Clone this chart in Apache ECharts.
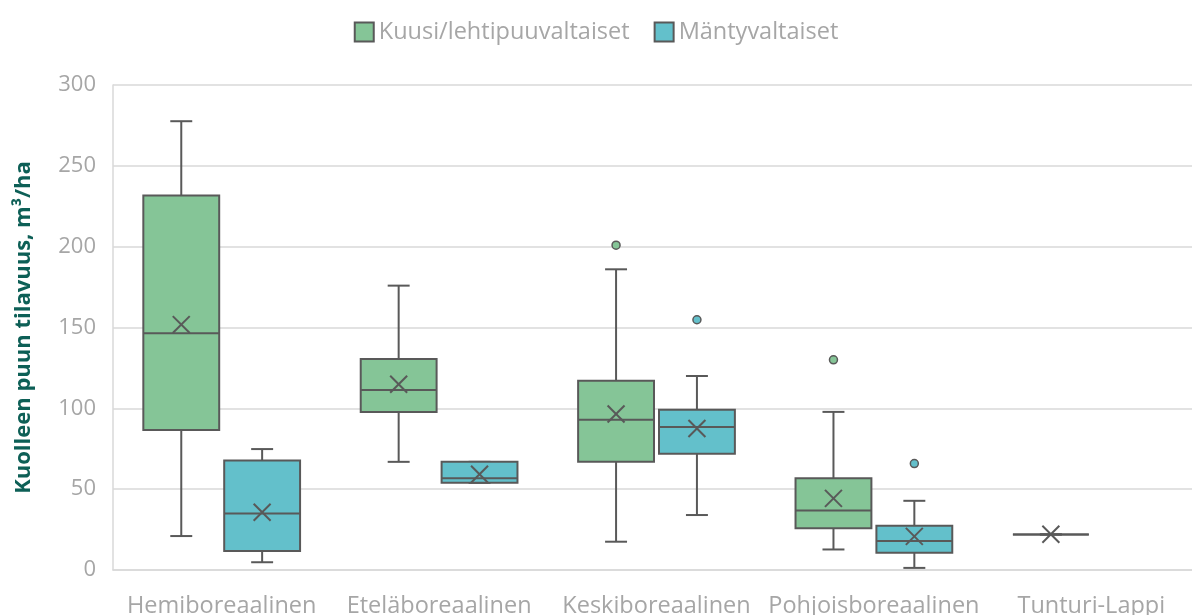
<!DOCTYPE html>
<html><head><meta charset="utf-8">
<script src="https://cdn.jsdelivr.net/npm/echarts@6/dist/echarts.min.js"></script>
<style>html,body{margin:0;padding:0;background:#fff}#c{width:1192px;height:615px}</style>
</head><body><div id="c"></div>
<script>
const categories = ['Hemiboreaalinen','Eteläboreaalinen','Keskiboreaalinen','Pohjoisboreaalinen','Tunturi-Lappi'];
const seriesNames = ['Kuusi/lehtipuuvaltaiset','Mäntyvaltaiset'];
const yAxisName = 'Kuolleen puun tilavuus, m³/ha';
// each entry: [min, Q1, median, Q3, max]
const spruceBox = [[21,86.6,146.5,231.6,277.6],[66.9,97.8,111.4,130.5,175.9],[17.5,66.9,93,117.1,186],[12.7,25.9,36.8,56.8,97.8],[22,22,22,22,22]];
const spruceMean = [151.8,114.9,96.5,44.3,22.1];
const spruceOutliers = [[2,200.9],[3,130]];
const pineBox = [[4.8,11.8,34.9,67.8,74.8],[53.9,53.9,56.8,66.9,66.9],[34,71.9,88.4,99.1,120],[1.3,10.7,18,27.4,42.8],null];
const pineMean = [35.7,59.2,87.5,20.8,null];
const pineOutliers = [[2,154.8],[3,65.8]];
const yMin = 0, yMax = 300, yStep = 50;

const GREEN = '#85c597', BLUE = '#63c0cb', EDGE = '#595959';

function buildRows(boxes, means){
  const rows = [];
  boxes.forEach((b, i) => { if (b) rows.push([i].concat(b, [means[i]])); });
  return rows;
}

function boxRender(side, fill){
  return function(params, api){
    const i = api.value(0);
    const band = api.size([1, 0])[0];
    const off = side * 0.186 * band;
    const w = 0.349 * band, cap = 0.101 * band, xs = 0.039 * band;
    const p = [1,2,3,4,5,6].map(k => api.coord([i, api.value(k)]));
    const x = p[0][0] + off;
    const yMinP = p[0][1], yQ1 = p[1][1], yMed = p[2][1], yQ3 = p[3][1], yMaxP = p[4][1], yMean = p[5][1];
    const ls = {stroke: EDGE, lineWidth: 2};
    const children = [
      {type:'line', shape:{x1:x, y1:yQ1, x2:x, y2:yMinP}, style:ls},
      {type:'line', shape:{x1:x, y1:yQ3, x2:x, y2:yMaxP}, style:ls},
      {type:'line', shape:{x1:x-cap/2, y1:yMinP, x2:x+cap/2, y2:yMinP}, style:ls},
      {type:'line', shape:{x1:x-cap/2, y1:yMaxP, x2:x+cap/2, y2:yMaxP}, style:ls},
      {type:'rect', shape:{x:x-w/2, y:yQ3, width:w, height:yQ1-yQ3}, style:{fill:fill, stroke:EDGE, lineWidth:2}},
      {type:'line', shape:{x1:x-w/2, y1:yMed, x2:x+w/2, y2:yMed}, style:ls},
      {type:'line', shape:{x1:x-xs, y1:yMean-xs, x2:x+xs, y2:yMean+xs}, style:ls},
      {type:'line', shape:{x1:x-xs, y1:yMean+xs, x2:x+xs, y2:yMean-xs}, style:ls}
    ];
    return {type:'group', children};
  };
}
function outlierRender(side, fill){
  return function(params, api){
    const band = api.size([1, 0])[0];
    const pt = api.coord([api.value(0), api.value(1)]);
    return {type:'circle', shape:{cx: pt[0] + side*0.186*band, cy: pt[1], r: 4}, style:{fill:fill, stroke:EDGE, lineWidth:1.5}};
  };
}

const chart = echarts.init(document.getElementById('c'));
chart.setOption({
  animation: false,
  backgroundColor: '#fff',
  textStyle: {fontFamily: 'Open Sans'},
  legend: {
    top: 15, left: 'center', itemWidth: 19, itemHeight: 19, itemGap: 24,
    textStyle: {fontSize: 23.5, color: '#a6a6a6', fontFamily: 'Open Sans'},
    data: [
      {name: seriesNames[0], icon: 'rect', itemStyle: {color: GREEN, borderColor: EDGE, borderWidth: 2}},
      {name: seriesNames[1], icon: 'rect', itemStyle: {color: BLUE, borderColor: EDGE, borderWidth: 2}}
    ]
  },
  grid: {left: 113, right: -8, top: 85, bottom: 45, outerBoundsMode: 'none'},
  xAxis: {
    type: 'category', data: categories,
    axisLine: {show: true, lineStyle: {color: '#d9d9d9', width: 1.5}},
    axisTick: {show: false},
    axisLabel: {fontSize: 23.5, color: '#a6a6a6', margin: 24, fontFamily: 'Open Sans', interval: 0}
  },
  yAxis: {
    type: 'value', min: yMin, max: yMax, interval: yStep,
    name: yAxisName, nameLocation: 'middle', nameRotate: 90, nameGap: 78,
    nameTextStyle: {fontSize: 22, fontWeight: 'bold', color: '#0d5f56', fontFamily: 'Open Sans'},
    axisLine: {show: true, lineStyle: {color: '#d9d9d9', width: 1.5}},
    axisTick: {show: false},
    axisLabel: {fontSize: 22, color: '#a6a6a6', margin: 17, fontFamily: 'Open Sans'},
    splitLine: {lineStyle: {color: '#d9d9d9', width: 1.5}}
  },
  series: [
    {name: seriesNames[0], type: 'custom', renderItem: boxRender(-1, GREEN), itemStyle: {color: GREEN},
     encode: {x: 0, y: [1,2,3,4,5,6]}, data: buildRows(spruceBox, spruceMean)},
    {name: seriesNames[1], type: 'custom', renderItem: boxRender(1, BLUE), itemStyle: {color: BLUE},
     encode: {x: 0, y: [1,2,3,4,5,6]}, data: buildRows(pineBox, pineMean)},
    {name: seriesNames[0], type: 'custom', renderItem: outlierRender(-1, GREEN), itemStyle: {color: GREEN},
     encode: {x: 0, y: 1}, data: spruceOutliers},
    {name: seriesNames[1], type: 'custom', renderItem: outlierRender(1, BLUE), itemStyle: {color: BLUE},
     encode: {x: 0, y: 1}, data: pineOutliers}
  ]
});
</script></body></html>
